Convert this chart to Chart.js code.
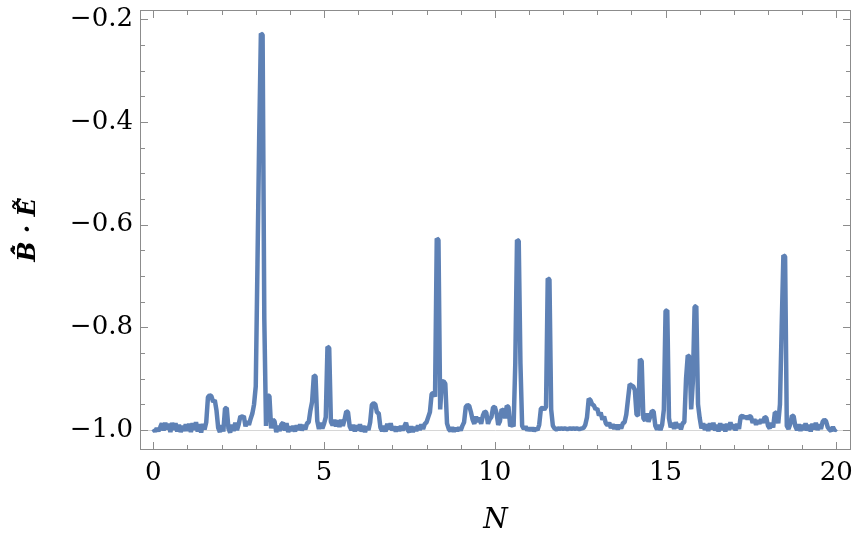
<!DOCTYPE html>
<html>
<head>
<meta charset="utf-8">
<script src="https://cdn.jsdelivr.net/npm/chart.js@4.4.1/dist/chart.umd.min.js"></script>
<style>
  html, body { margin: 0; padding: 0; background: #fff; }
  #wrap { width: 855px; height: 546px; }
</style>
</head>
<body>
<div id="wrap"><canvas id="plot" width="855" height="546"></canvas></div>
<script>
// --- DATA ---
// samples every 0.05 in N, from 0 to 20
const step = 0.05;
const xTickVals = [0, 5, 10, 15, 20];
const yTickVals = [-1.0, -0.8, -0.6, -0.4, -0.2];
const yVals = [
  // 0 - 0.95
  -0.998, -1.003, -0.997, -1.002, -0.995, -0.987, -1.001, -0.986, -0.999, -0.988, -1.004, -0.986, -1.000, -0.987, -1.003, -0.990, -1.004, -0.992, -1.002, -0.989,
  // 1
  -1.002, -0.988, -1.004, -0.987, -1.000, -0.985, -1.003, -0.989, -1.005, -0.988, -0.999, -0.985, -0.936, -0.932, -0.934, -0.945, -0.942, -0.962, -0.996, -1.004,
  // 2
  -0.991, -1.003, -0.958, -0.957, -0.997, -1.005, -0.990, -1.002, -0.986, -1.000, -0.989, -0.973, -0.975, -0.973, -0.993, -0.983, -0.990, -0.978, -0.968, -0.950,
  // 3
  -0.915, -0.677, -0.432, -0.228, -0.230, -0.784, -0.992, -0.932, -0.934, -0.997, -0.980, -0.983, -1.004, -0.992, -1.002, -0.989, -0.986, -1.001, -0.987, -1.004,
  // 4
  -0.993, -1.002, -0.992, -1.003, -0.991, -1.000, -0.989, -1.001, -0.990, -0.999, -0.987, -0.985, -0.962, -0.945, -0.894, -0.895, -0.982, -0.998, -0.986, -0.997,
  // 5
  -0.988, -0.975, -0.838, -0.840, -0.984, -0.991, -0.980, -0.993, -0.981, -0.994, -0.980, -0.992, -0.980, -0.964, -0.965, -0.993, -1.000, -0.990, -1.003, -0.991,
  // 6
  -1.001, -0.989, -1.003, -0.992, -1.004, -0.993, -1.000, -0.985, -0.951, -0.948, -0.950, -0.966, -0.967, -0.995, -1.002, -0.992, -1.003, -0.988, -0.999, -0.987,
  // 7
  -1.001, -0.993, -1.003, -0.994, -1.002, -0.992, -1.001, -0.993, -0.986, -1.000, -1.004, -0.993, -1.004, -0.994, -1.002, -0.991, -1.000, -0.989, -0.998, -0.988,
  // 8
  -0.985, -0.975, -0.965, -0.930, -0.928, -0.935, -0.627, -0.630, -0.960, -0.906, -0.905, -0.910, -0.987, -0.998, -1.002, -0.995, -1.003, -0.996, -1.002, -0.995,
  // 9
  -1.001, -0.992, -0.985, -0.955, -0.951, -0.953, -0.965, -0.980, -0.988, -0.974, -0.984, -0.976, -0.988, -0.972, -0.964, -0.966, -0.988, -0.979, -0.975, -0.956,
  // 10
  -0.955, -0.967, -0.990, -0.983, -0.960, -0.962, -0.977, -0.953, -0.955, -0.993, -0.988, -0.993, -0.869, -0.630, -0.632, -0.870, -0.992, -0.998, -0.993, -1.001,
  // 11
  -0.996, -1.001, -0.996, -1.002, -0.997, -1.000, -0.990, -0.958, -0.957, -0.960, -0.955, -0.705, -0.707, -0.960, -0.992, -0.997, -0.999, -0.997, -0.998, -0.997,
  // 12
  -0.998, -0.997, -0.998, -0.998, -0.997, -0.998, -0.997, -0.998, -0.997, -0.998, -0.998, -0.997, -0.996, -0.990, -0.975, -0.939, -0.942, -0.950, -0.952, -0.960,
  // 13
  -0.958, -0.972, -0.966, -0.980, -0.974, -0.987, -0.991, -0.986, -0.996, -0.989, -0.998, -0.990, -0.999, -0.990, -0.997, -0.987, -0.985, -0.970, -0.940, -0.911,
  // 14
  -0.913, -0.915, -0.922, -0.970, -0.972, -0.862, -0.866, -0.977, -0.982, -0.968, -0.984, -0.974, -0.963, -0.964, -0.992, -0.999, -0.990, -1.000, -0.990, -0.960,
  // 15
  -0.768, -0.767, -0.977, -0.995, -0.986, -0.998, -0.985, -0.996, -0.988, -0.999, -0.987, -0.985, -0.900, -0.855, -0.857, -0.960, -0.905, -0.760, -0.759, -0.950,
  // 16
  -0.977, -0.997, -0.987, -1.000, -0.989, -1.002, -0.987, -0.999, -0.986, -1.001, -0.990, -1.003, -0.987, -1.000, -0.989, -1.003, -0.988, -1.000, -0.985, -0.998,
  // 17
  -0.989, -1.001, -0.988, -0.998, -0.974, -0.972, -0.977, -0.973, -0.979, -0.973, -0.974, -0.986, -0.979, -0.990, -0.981, -0.988, -0.979, -0.986, -0.975, -0.976,
  // 18
  -0.992, -0.997, -0.986, -0.995, -0.966, -0.967, -0.987, -0.950, -0.800, -0.660, -0.662, -0.992, -0.998, -0.989, -0.972, -0.973, -0.993, -1.000, -0.989, -1.002,
  // 19 - 20
  -0.990, -1.000, -0.987, -1.001, -0.990, -1.003, -0.988, -0.999, -0.986, -1.000, -0.989, -0.998, -0.984, -0.980, -0.983, -0.995, -0.999, -1.002, -0.994, -1.001,
  -0.998
];

const points = yVals.map((v, i) => ({ x: +(i * step).toFixed(2), y: v }));

const FONT = "'DejaVu Serif', serif";
const lineBlue = '#5e81b5';
const frameGrey = '#8c8c8c';

// frame with inward ticks on all four sides (Mathematica style)
const framePlugin = {
  id: 'frame',
  beforeDatasetsDraw(chart) {
    const { ctx, chartArea: a, scales: { y } } = chart;
    const py = Math.round(y.getPixelForValue(-1.0)) + 0.5;
    ctx.save();
    ctx.strokeStyle = '#d6d6d6';
    ctx.lineWidth = 1;
    ctx.beginPath();
    ctx.moveTo(a.left, py);
    ctx.lineTo(a.right, py);
    ctx.stroke();
    ctx.restore();
  },
  afterDatasetsDraw(chart) {
    const { ctx, chartArea: a, scales: { x, y } } = chart;
    ctx.save();
    ctx.strokeStyle = frameGrey;
    ctx.lineWidth = 1;
    ctx.strokeRect(a.left + 0.5, a.top + 0.5, a.width - 1, a.height - 1);
    ctx.beginPath();
    for (let n = 0; n <= 20; n++) {
      const px = Math.round(x.getPixelForValue(n)) + 0.5;
      const len = n % 5 === 0 ? 8 : 5;
      ctx.moveTo(px, a.bottom); ctx.lineTo(px, a.bottom - len);
      ctx.moveTo(px, a.top); ctx.lineTo(px, a.top + len);
    }
    for (let k = 0; k <= 16; k++) {
      const v = -1 + k * 0.05;
      const py = Math.round(y.getPixelForValue(v)) + 0.5;
      const len = k % 4 === 0 ? 8 : 5;
      ctx.moveTo(a.left, py); ctx.lineTo(a.left + len, py);
      ctx.moveTo(a.right, py); ctx.lineTo(a.right - len, py);
    }
    ctx.stroke();
    ctx.restore();
  }
};

new Chart(document.getElementById('plot'), {
  type: 'line',
  data: {
    datasets: [{
      data: points,
      borderColor: lineBlue,
      borderWidth: 4.5,
      borderJoinStyle: 'bevel',
      pointRadius: 0,
      tension: 0,
      fill: false
    }]
  },
  options: {
    responsive: false,
    animation: false,
    layout: { padding: { left: 0, right: 4, top: 10, bottom: 0 } },
    plugins: { legend: { display: false }, tooltip: { enabled: false } },
    scales: {
      x: {
        type: 'linear',
        min: -0.39,
        max: 20.43,
        afterBuildTicks: s => { s.ticks = xTickVals.map(v => ({ value: v })); },
        afterFit: s => {
          s.height = 96;
          s.paddingLeft = 0; s.paddingRight = 0;
        },
        grid: { display: false, drawTicks: false },
        border: { display: false },
        ticks: {
          padding: 8,
          color: '#000',
          font: { family: FONT, size: 26 },
          maxRotation: 0,
          callback: v => String(v)
        },
        title: {
          display: true,
          text: 'N',
          color: '#000',
          font: { family: FONT, size: 28, style: 'italic' },
          padding: { top: 0, bottom: 8 }
        }
      },
      y: {
        min: -1.039,
        max: -0.182,
        afterBuildTicks: s => { s.ticks = yTickVals.map(v => ({ value: v })); },
        afterFit: s => {
          s.width = 140;
          s.paddingTop = 0; s.paddingBottom = 0;
        },
        grid: { display: false, drawTicks: false },
        border: { display: false },
        ticks: {
          padding: 7,
          color: '#000',
          font: { family: FONT, size: 26 },
          callback: v => '\u2212' + Math.abs(v).toFixed(1)
        },
        title: {
          display: true,
          text: 'B\u0303\u0302 \u00B7 E\u0303\u0302',
          color: '#000',
          font: { family: FONT, size: 24, style: 'italic', weight: 'bold' },
          padding: { top: 14, bottom: 0 }
        }
      }
    }
  },
  plugins: [framePlugin]
});
</script>
</body>
</html>
